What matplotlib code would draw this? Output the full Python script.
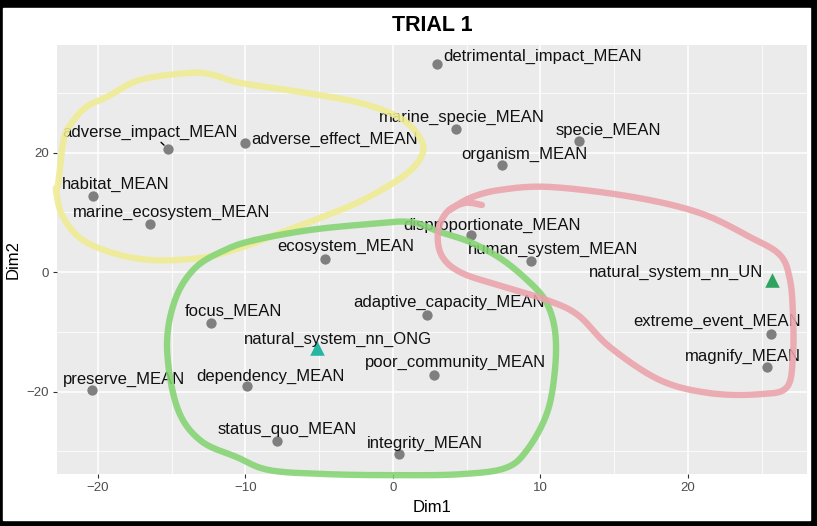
import numpy as np
import matplotlib
matplotlib.use("Agg")
import matplotlib.pyplot as plt
from matplotlib.patches import Rectangle

plt.rcParams["font.family"] = ["Liberation Sans", "DejaVu Sans"]

# --- data ---
labels = [
    "detrimental_impact_MEAN", "adverse_impact_MEAN", "adverse_effect_MEAN",
    "marine_specie_MEAN", "specie_MEAN", "organism_MEAN", "habitat_MEAN",
    "marine_ecosystem_MEAN", "disproportionate_MEAN", "ecosystem_MEAN",
    "human_system_MEAN", "natural_system_nn_UN", "focus_MEAN",
    "adaptive_capacity_MEAN", "natural_system_nn_ONG", "extreme_event_MEAN",
    "poor_community_MEAN", "magnify_MEAN", "preserve_MEAN", "dependency_MEAN",
    "status_quo_MEAN", "integrity_MEAN",
]
dim1 = [2.98, -15.25, -10.03, 4.27, 12.61, 7.39, -20.34, -16.47, 5.29, -4.61,
        9.36, 25.69, -12.34, 2.31, -5.15, 25.63, 2.78, 25.36, -20.41, -9.90,
        -7.86, 0.41]
dim2 = [34.84, 20.60, 21.61, 23.95, 21.94, 17.92, 12.73, 8.04, 6.20, 2.18,
        1.84, -1.34, -8.54, -7.20, -12.73, -10.39, -17.25, -15.91, -19.77,
        -19.10, -28.31, -30.49]
kind = ["var"] * 22
kind[labels.index("natural_system_nn_UN")] = "UN"
kind[labels.index("natural_system_nn_ONG")] = "ONG"

# label offsets from the point, in pixels (layout only)
label_off = {
    "detrimental_impact_MEAN": (106, 7), "adverse_impact_MEAN": (-18, 17),
    "adverse_effect_MEAN": (90, 3), "marine_specie_MEAN": (6, 12),
    "specie_MEAN": (29, 11), "organism_MEAN": (22, 11), "habitat_MEAN": (23, 12),
    "marine_ecosystem_MEAN": (22, 12), "disproportionate_MEAN": (21, 10),
    "ecosystem_MEAN": (21, 13), "human_system_MEAN": (22, 12),
    "natural_system_nn_UN": (-96, 8), "focus_MEAN": (22, 12),
    "adaptive_capacity_MEAN": (22, 13), "natural_system_nn_ONG": (21, 9),
    "extreme_event_MEAN": (-54, 13), "poor_community_MEAN": (21, 13),
    "magnify_MEAN": (-24, 11), "preserve_MEAN": (32, 11),
    "dependency_MEAN": (23, 10), "status_quo_MEAN": (10, 12),
    "integrity_MEAN": (26, 11),
}

# hand-drawn loops laid over the chart (data coords)
yellow_loop = [(-22.71, 14.57), (-22.44, 20.44), (-22.10, 23.79), (-20.88, 27.47),
               (-19.39, 29.31), (-17.15, 32.16), (-13.76, 33.33), (-12.20, 33.00),
               (-10.37, 31.66), (-6.31, 30.15), (-2.24, 28.31), (0.47, 25.80),
               (1.83, 22.45), (1.97, 19.60), (0.81, 16.25), (-2.03, 12.06),
               (-4.95, 9.05), (-7.66, 6.53), (-10.37, 4.02), (-13.08, 2.35),
               (-16.47, 2.01), (-19.19, 3.35), (-21.22, 5.70), (-22.44, 9.55),
               (-22.85, 13.74)]
green_loop = [(-9.36, 5.36), (-5.63, 7.04), (-1.56, 8.04), (1.15, 8.38), (3.19, 6.70),
              (5.22, 5.03), (7.25, 2.35), (8.95, -1.01), (10.31, -4.69), (10.98, -9.72),
              (10.98, -16.42), (10.44, -23.62), (9.08, -29.82), (7.59, -32.83),
              (4.54, -33.84), (0.47, -34.00), (-4.27, -33.84), (-8.34, -33.17),
              (-10.58, -30.99), (-13.08, -28.14), (-14.64, -22.61), (-15.32, -12.56),
              (-14.78, -4.69), (-13.42, 0.67), (-11.39, 3.69)]
red_loop = [(6.03, 11.22), (4.88, 11.56), (3.66, 10.05), (3.05, 6.70), (3.32, 2.68),
            (4.68, -0.17), (7.59, -2.51), (10.44, -4.69), (12.54, -7.20), (14.71, -12.56),
            (18.10, -18.09), (21.49, -20.27), (24.88, -20.44), (26.71, -19.26),
            (27.12, -13.90), (27.12, -7.20), (26.92, -1.34), (26.24, 2.85), (24.20, 5.86),
            (20.81, 9.88), (16.27, 12.56), (10.64, 14.24), (7.25, 13.74), (5.22, 12.40),
            (3.86, 10.39)]


def smooth(pts, closed, n=20):
    """Catmull-Rom through the stroke's control points."""
    p = np.asarray(pts, float)
    if closed:
        p = np.vstack([p[-1], p, p[0], p[1]])
    else:
        p = np.vstack([p[0], p, p[-1]])
    t = np.linspace(0, 1, n, endpoint=False)[:, None]
    out = []
    for i in range(1, len(p) - 2):
        p0, p1, p2, p3 = p[i - 1], p[i], p[i + 1], p[i + 2]
        out.append(0.5 * (2 * p1 + (-p0 + p2) * t + (2 * p0 - 5 * p1 + 4 * p2 - p3) * t ** 2
                          + (-p0 + 3 * p1 - 3 * p2 + p3) * t ** 3))
    out.append(p[-2][None, :])
    return np.vstack(out)


W, H = 817, 526
fig = plt.figure(figsize=(W / 100, H / 100), dpi=100, facecolor="black")
fig.patches.append(Rectangle((3 / W, 1 - 520 / H), 807 / W, 512 / H,
                             transform=fig.transFigure, color="white", zorder=-10))

ax = fig.add_axes([57.3 / W, 1 - 474 / H, (806.7 - 57.3) / W, (474 - 45) / H])
ax.set_facecolor("#EBEBEB")
ax.set_xlim(-22.76, 28.05)
ax.set_ylim(-33.8, 38.0)
ax.set_xticks([-20, -10, 0, 10, 20])
ax.set_yticks([-20, 0, 20])
ax.set_xticks([-15, -5, 5, 15, 25], minor=True)
ax.set_yticks([-30, -10, 10, 30], minor=True)
ax.grid(which="major", color="white", lw=1.1)
ax.grid(which="minor", color="white", lw=0.55)
ax.set_axisbelow(True)
for s in ax.spines.values():
    s.set_visible(False)
ax.tick_params(which="major", length=3, width=0.8, color="#333333",
               labelcolor="#4D4D4D", labelsize=9.5, pad=3)
ax.tick_params(which="minor", length=0)
ax.set_xlabel("Dim1", fontsize=12, labelpad=4)
ax.set_ylabel("Dim2", fontsize=12, labelpad=4)
ax.set_title("TRIAL 1", fontsize=15.5, fontweight="bold", pad=10)

x = np.array(dim1)
y = np.array(dim2)
k = np.array(kind)
m = k == "var"
ax.scatter(x[m], y[m], s=55, color="#7F7F7F", zorder=3, linewidths=0)
ax.scatter(x[k == "ONG"], y[k == "ONG"], s=110, marker="^", color="#26B5A0",
           zorder=3, linewidths=0)
ax.scatter(x[k == "UN"], y[k == "UN"], s=110, marker="^", color="#2EA35E",
           zorder=3, linewidths=0)

for name, xi, yi in zip(labels, dim1, dim2):
    dx, dy = label_off[name]
    arrow = dict(arrowstyle="-", color="black", lw=1.0, shrinkA=0, shrinkB=4) \
        if name == "adverse_impact_MEAN" else None
    ax.annotate(name, (xi, yi), xytext=(dx, dy), textcoords="offset pixels",
                ha="center", va="center", fontsize=12, color="#111111",
                arrowprops=arrow, zorder=4)

for pts, col, closed in [(yellow_loop, "#F0EC92", True),
                         (green_loop, "#84D473", True),
                         (red_loop, "#EBA2AB", False)]:
    c = smooth(pts, closed)
    ax.plot(c[:, 0], c[:, 1], color=col, lw=4.6, alpha=0.88,
            solid_capstyle="round", clip_on=False, zorder=5)

fig.savefig("out.png", dpi=100, facecolor=fig.get_facecolor())
